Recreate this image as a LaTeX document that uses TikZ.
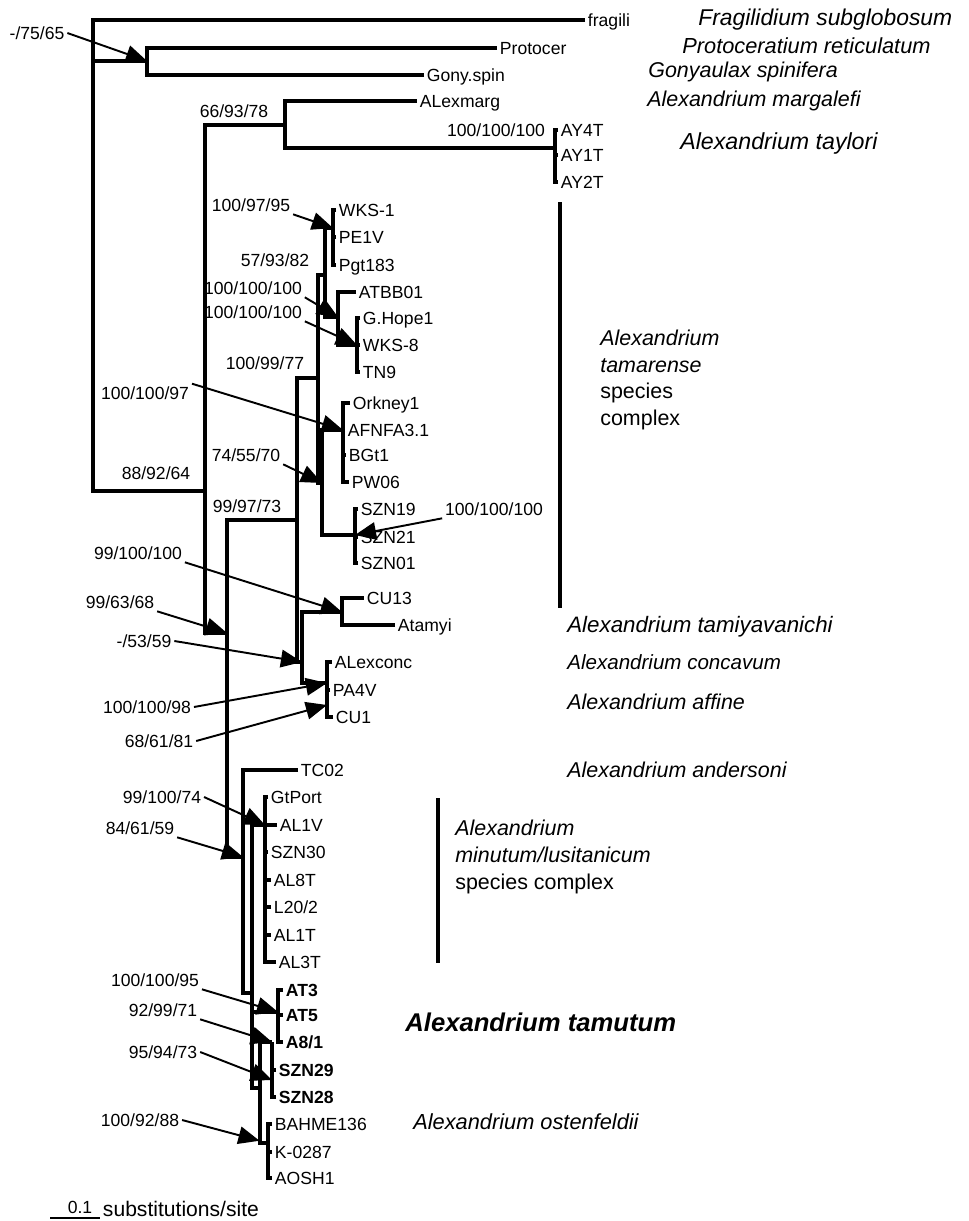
\documentclass[tikz,border=0pt]{standalone}
\usepackage{fontspec}
\setmainfont{Liberation Sans}
\usetikzlibrary{arrows.meta}
\tikzset{
  br/.style={line width=2.1pt},
  tip/.style={anchor=west,inner sep=1.5pt,text height=7.2pt,text depth=0pt,font=\fontsize{10}{12}\selectfont},
  bs/.style={inner sep=1.5pt,text height=7.2pt,text depth=0pt,font=\fontsize{10}{12}\selectfont},
  pt/.style={draw,line width=1.1pt,-{Triangle[length=12pt,width=10pt]}},
  sp/.style={anchor=west,inner sep=0pt,font=\fontsize{12.2}{15.2}\selectfont\itshape},
  spblock/.style={anchor=west,inner sep=0pt,align=left,font=\fontsize{12.2}{15.2}\selectfont},
  bar/.style={line width=1.8pt}
}
\begin{document}
\begin{tikzpicture}[x=0.02cm,y=-0.02cm]
\useasboundingbox (0,0) rectangle (968,1221);
% internal nodes
\coordinate (root) at (93,255);
\coordinate (n147) at (147,61);
\coordinate (n205) at (205,491);
\coordinate (n285) at (285,125);
\coordinate (n555) at (555,148);
\coordinate (n227) at (227,633);
\coordinate (n297) at (297,520);
\coordinate (n318) at (318,378);
\coordinate (n325) at (325,275);
\coordinate (n333) at (333,228);
\coordinate (n338) at (338,317);
\coordinate (n357) at (357,345);
\coordinate (n322) at (322,483);
\coordinate (n343) at (343,430);
\coordinate (n355) at (355,535);
\coordinate (n302) at (302,662);
\coordinate (n342) at (342,612);
\coordinate (n327) at (327,683);
\coordinate (n327b) at (327,705);
\coordinate (n243) at (243,857);
\coordinate (n252) at (252,993);
\coordinate (n265) at (265,825);
\coordinate (n278) at (278,1012);
\coordinate (n260) at (260,1088);
\coordinate (n272) at (272,1042);
\coordinate (n272b) at (272,1080);
\coordinate (n268) at (268,1143);
% tips
\node[tip] (fragili) at (585,20) {fragili};
\node[tip] (protocer) at (497,48) {Protocer};
\node[tip] (gony) at (424,75) {Gony.spin};
\node[tip] (alexmarg) at (417,101) {ALexmarg};
\node[tip] (ay4t) at (558,130) {AY4T};
\node[tip] (ay1t) at (558,155) {AY1T};
\node[tip] (ay2t) at (558,182) {AY2T};
\node[tip] (wks1) at (336,210) {WKS-1};
\node[tip] (pe1v) at (336,237) {PE1V};
\node[tip] (pgt183) at (336,265) {Pgt183};
\node[tip] (atbb01) at (356,292) {ATBB01};
\node[tip] (ghope1) at (360,318) {G.Hope1};
\node[tip] (wks8) at (360,345) {WKS-8};
\node[tip] (tn9) at (360,372) {TN9};
\node[tip] (orkney1) at (350,403) {Orkney1};
\node[tip] (afnfa) at (345,430) {AFNFA3.1};
\node[tip] (bgt1) at (346,455) {BGt1};
\node[tip] (pw06) at (349,482) {PW06};
\node[tip] (szn19) at (358,509) {SZN19};
\node[tip] (szn21) at (358,537) {SZN21};
\node[tip] (szn01) at (358,563) {SZN01};
\node[tip] (cu13) at (364,598) {CU13};
\node[tip] (atamyi) at (395,625) {Atamyi};
\node[tip] (alexconc) at (332,662) {ALexconc};
\node[tip] (pa4v) at (330,690) {PA4V};
\node[tip] (cu1) at (333,717) {CU1};
\node[tip] (tc02) at (298,770) {TC02};
\node[tip] (gtport) at (268,797) {GtPort};
\node[tip] (al1v) at (277,825) {AL1V};
\node[tip] (szn30) at (268,852) {SZN30};
\node[tip] (al8t) at (271,880) {AL8T};
\node[tip] (l202) at (271,907) {L20/2};
\node[tip] (al1t) at (271,935) {AL1T};
\node[tip] (al3t) at (276,962) {AL3T};
\node[tip,font=\fontsize{10}{12}\selectfont\bfseries] (at3) at (283,990) {AT3};
\node[tip,font=\fontsize{10}{12}\selectfont\bfseries] (at5) at (283,1015) {AT5};
\node[tip,font=\fontsize{10}{12}\selectfont\bfseries] (a81) at (283,1042) {A8/1};
\node[tip,font=\fontsize{10}{12}\selectfont\bfseries] (szn29) at (276,1070) {SZN29};
\node[tip,font=\fontsize{10}{12}\selectfont\bfseries] (szn28) at (276,1097) {SZN28};
\node[tip] (bahme) at (272,1124) {BAHME136};
\node[tip] (k0287) at (272,1152) {K-0287};
\node[tip] (aosh1) at (272,1178) {AOSH1};
% branches
\draw[br]
  (fragili.west) -| (root)
  (n147) -| (root)
  (n205) -| (root)
  (protocer.west) -| (n147)
  (gony.west) -| (n147)
%
  (n285) -| (n205)
  (n227) -| (n205)
  (alexmarg.west) -| (n285)
  (n555) -| (n285)
  (ay4t.west) -| (n555)
  (ay1t.west) -| (n555)
  (ay2t.west) -| (n555)
%
  (n297) -| (n227)
  (n243) -| (n227)
  (n318) -| (n297)
  (n302) -| (n297)
  (n325) -| (n318)
  (n322) -| (n318)
  (n333) -| (n325)
  (n338) -| (n325)
  (wks1.west) -| (n333)
  (pe1v.west) -| (n333)
  (pgt183.west) -| (n333)
  (atbb01.west) -| (n338)
  (n357) -| (n338)
  (ghope1.west) -| (n357)
  (wks8.west) -| (n357)
  (tn9.west) -| (n357)
  (n343) -| (n322)
  (n355) -| (n322)
  (orkney1.west) -| (n343)
  (afnfa.west) -| (n343)
  (bgt1.west) -| (n343)
  (pw06.west) -| (n343)
  (szn19.west) -| (n355)
  (szn21.west) -| (n355)
  (szn01.west) -| (n355)
  (n342) -| (n302)
  (n327) -| (n302)
  (cu13.west) -| (n342)
  (atamyi.west) -| (n342)
  (alexconc.west) -| (n327)
  (n327b) -| (n327)
  (pa4v.west) -| (n327b)
  (cu1.west) -| (n327b)
%
  (tc02.west) -| (n243)
  (n252) -| (n243)
  (n265) -| (n252)
  (n278) -| (n252)
  (n260) -| (n252)
  (gtport.west) -| (n265)
  (al1v.west) -| (n265)
  (szn30.west) -| (n265)
  (al8t.west) -| (n265)
  (l202.west) -| (n265)
  (al1t.west) -| (n265)
  (al3t.west) -| (n265)
  (at3.west) -| (n278)
  (at5.west) -| (n278)
  (a81.west) -| (n278)
  (n272) -| (n260)
  (n268) -| (n260)
  (szn29.west) -| (n272)
  (szn28.west) -| (n272)
  (bahme.west) -| (n268)
  (k0287.west) -| (n268)
  (aosh1.west) -| (n268);
% support values
\node[bs] (b7565) at (37,33) {-/75/65};
\node[bs] (b669378) at (234,111) {66/93/78};
\node[bs] (b100t) at (496,130) {100/100/100};
\node[bs] (b979) at (251,205) {100/97/95};
\node[bs] (b579) at (275,260) {57/93/82};
\node[bs] (b100a) at (253,288) {100/100/100};
\node[bs] (b100b) at (253,312) {100/100/100};
\node[bs] (b1009977) at (265,363) {100/99/77};
\node[bs] (b10097) at (145,393) {100/100/97};
\node[bs] (b745570) at (246,455) {74/55/70};
\node[bs] (b889264) at (156,473) {88/92/64};
\node[bs] (b999773) at (247,506) {99/97/73};
\node[bs] (b100s) at (494,509) {100/100/100};
\node[bs] (b99100100) at (138,553) {99/100/100};
\node[bs] (b996368) at (120,602) {99/63/68};
\node[bs] (b5359) at (144,641) {-/53/59};
\node[bs] (b10010098) at (147,707) {100/100/98};
\node[bs] (b686181) at (159,741) {68/61/81};
\node[bs] (b9910074) at (162,797) {99/100/74};
\node[bs] (b846159) at (140,828) {84/61/59};
\node[bs] (b10010095) at (155,980) {100/100/95};
\node[bs] (b929971) at (163,1010) {92/99/71};
\node[bs] (b959473) at (163,1052) {95/94/73};
\node[bs] (b1009288) at (140,1120) {100/92/88};
\draw
  (b7565.east) edge[pt] (n147)
  (b979.south east) edge[pt] (n333)
  (b100a.south east) edge[pt] (n338)
  (b100b.south east) edge[pt] (n357)
  (b10097.north east) edge[pt] (n343)
  (b745570.south east) edge[pt] (n322)
  (b100s.south west) edge[pt] (n355)
  (b99100100.south east) edge[pt] (n342)
  (b996368.south east) edge[pt] (n227)
  (b5359.east) edge[pt] (n302)
  (b10010098.east) edge[pt] (n327)
  (b686181.east) edge[pt] (n327b)
  (b9910074.east) edge[pt] (n265)
  (b846159.south east) edge[pt] (n243)
  (b10010095.south east) edge[pt] (n278)
  (b929971.south east) edge[pt] (n272)
  (b959473.east) edge[pt] (n272b)
  (b1009288.east) edge[pt,shorten >=5pt] (n268);
% species
\node[sp,font=\fontsize{13}{15}\selectfont\itshape] (fragsub) at (698,20) {Fragilidium subglobosum};
\node[sp,font=\fontsize{12.4}{15}\selectfont\itshape] (protret) at (682,46) {Protoceratium reticulatum};
\node[sp] (gonspi) at (648,72) {Gonyaulax spinifera};
\node[sp] (alxmar) at (647,101) {Alexandrium margalefi};
\node[sp,font=\fontsize{13.2}{15}\selectfont\itshape] (alxtay) at (680,143) {Alexandrium taylori};
\node[spblock] (alxtam) at (600,380) {\textit{Alexandrium}\\\textit{tamarense}\\species\\complex};
\node[sp,font=\fontsize{12.7}{15}\selectfont\itshape] (alxtmy) at (567,627) {Alexandrium tamiyavanichi};
\node[sp,font=\fontsize{11.7}{15}\selectfont\itshape] (alxcon) at (567,662) {Alexandrium concavum};
\node[sp] (alxaff) at (567,702) {Alexandrium affine};
\node[sp] (alxand) at (567,770) {Alexandrium andersoni};
\node[spblock] (alxmin) at (455,857) {\textit{Alexandrium}\\\textit{minutum/lusitanicum}\\species complex};
\node[sp,font=\fontsize{14.6}{16}\selectfont\bfseries\itshape] (alxtmt) at (405,1022) {Alexandrium tamutum};
\node[sp,font=\fontsize{12.4}{15}\selectfont\itshape] (alxost) at (413,1122) {Alexandrium ostenfeldii};
\draw[bar] (560,202) -- (560,608);
\draw[bar] (438,798) -- (438,963);
% scale
\draw[line width=1.3pt] (50,1218) -- (100,1218);
\node[bs] (sc) at (80,1207) {0.1};
\node[tip,font=\fontsize{12}{14}\selectfont] (scl) at (100,1210) {substitutions/site};
\end{tikzpicture}
\end{document}
